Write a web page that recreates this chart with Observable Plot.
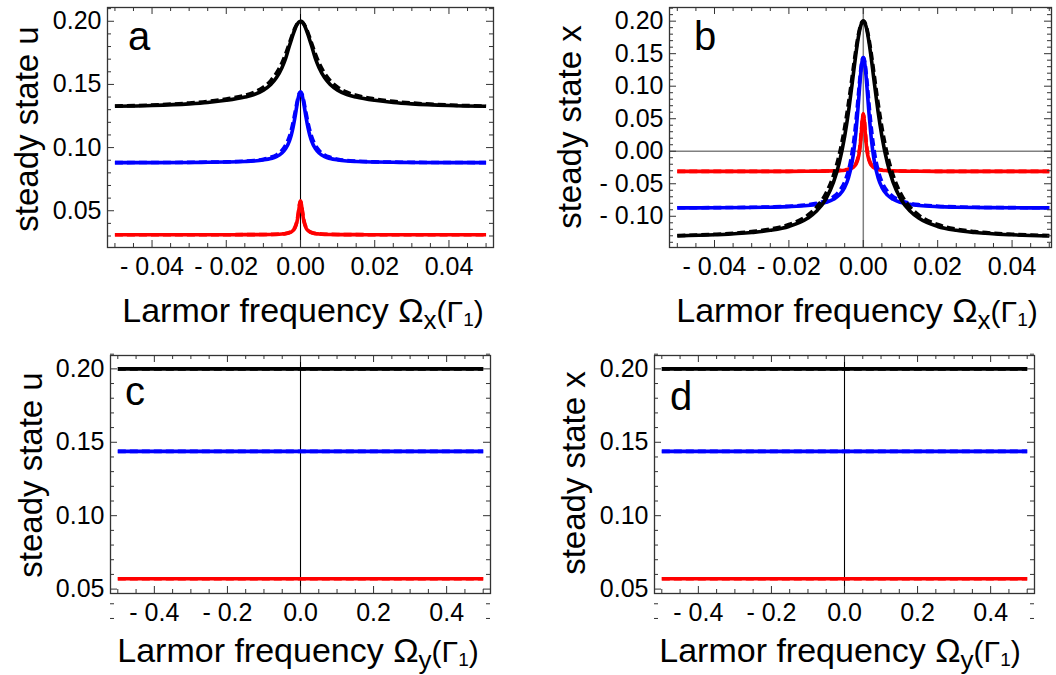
<!DOCTYPE html>
<html><head><meta charset="utf-8">
<script src="https://cdn.jsdelivr.net/npm/d3@7"></script>
<script src="https://cdn.jsdelivr.net/npm/@observablehq/plot@0.6"></script>
<style>
body{margin:0;background:#fff;}
#fig{position:relative;width:1056px;height:675px;overflow:hidden;background:#fff;}
.panel{position:absolute;}
#over{position:absolute;left:0;top:0;pointer-events:none;}
</style></head><body><div id="fig"></div>
<script>
// ---------- DATA ----------
// Larmor frequency Omega_x sample points (curves are symmetric about 0)
const omegaXHalf = [0, 0.00025, 0.0005, 0.00075, 0.001, 0.0015, 0.002, 0.0025, 0.003, 0.004, 0.005, 0.0065, 0.008, 0.01, 0.0125, 0.015, 0.02, 0.025, 0.03, 0.04, 0.05];
// panel a: steady state u vs Omega_x
const uBlackSolid  = [0.2000, 0.1998, 0.1992, 0.1983, 0.1971, 0.1937, 0.1896, 0.1850, 0.1804, 0.1705, 0.1632, 0.1552, 0.1500, 0.1455, 0.1420, 0.1400, 0.1374, 0.1357, 0.1346, 0.1333, 0.1327];
const uBlackDashed = [0.2000, 0.1998, 0.1994, 0.1986, 0.1975, 0.1946, 0.1910, 0.1869, 0.1826, 0.1742, 0.1670, 0.1588, 0.1530, 0.1478, 0.1438, 0.1414, 0.1385, 0.1366, 0.1353, 0.1337, 0.1329];
const uBlueSolid   = [0.1440, 0.1431, 0.1407, 0.1371, 0.1328, 0.1238, 0.1160, 0.1098, 0.1052, 0.0992, 0.0957, 0.0928, 0.0913, 0.0902, 0.0894, 0.0890, 0.0886, 0.0884, 0.0882, 0.0881, 0.0881];
const uBlueDashed  = [0.1440, 0.1433, 0.1415, 0.1386, 0.1351, 0.1273, 0.1199, 0.1137, 0.1087, 0.1019, 0.0978, 0.0942, 0.0923, 0.0908, 0.0898, 0.0893, 0.0887, 0.0885, 0.0883, 0.0882, 0.0881];
const uRedSolid    = [0.0576, 0.0549, 0.0494, 0.0443, 0.0406, 0.0363, 0.0343, 0.0332, 0.0326, 0.0319, 0.0316, 0.0313, 0.0312, 0.0311, 0.0311, 0.0311, 0.0310, 0.0310, 0.0310, 0.0310, 0.0310];
const uRedDashed   = [0.0576, 0.0552, 0.0501, 0.0452, 0.0414, 0.0369, 0.0347, 0.0335, 0.0328, 0.0320, 0.0317, 0.0314, 0.0313, 0.0312, 0.0311, 0.0311, 0.0310, 0.0310, 0.0310, 0.0310, 0.0310];
// panel b: steady state x vs Omega_x
const xBlackSolid  = [0.2000, 0.1991, 0.1963, 0.1917, 0.1856, 0.1692, 0.1490, 0.1266, 0.1036, 0.0601, 0.0232, -0.0187, -0.0476, -0.0727, -0.0917, -0.1032, -0.1156, -0.1216, -0.1250, -0.1285, -0.1301];
const xBlackDashed = [0.2000, 0.1992, 0.1968, 0.1929, 0.1877, 0.1735, 0.1556, 0.1355, 0.1144, 0.0732, 0.0368, -0.0061, -0.0368, -0.0643, -0.0855, -0.0985, -0.1127, -0.1197, -0.1236, -0.1277, -0.1296];
const xBlueSolid   = [0.1440, 0.1404, 0.1304, 0.1155, 0.0977, 0.0607, 0.0283, 0.0028, -0.0163, -0.0412, -0.0556, -0.0675, -0.0739, -0.0786, -0.0817, -0.0835, -0.0852, -0.0860, -0.0865, -0.0869, -0.0871];
const xBlueDashed  = [0.1440, 0.1413, 0.1336, 0.1218, 0.1072, 0.0749, 0.0443, 0.0186, -0.0018, -0.0300, -0.0471, -0.0617, -0.0698, -0.0759, -0.0799, -0.0822, -0.0845, -0.0856, -0.0862, -0.0867, -0.0870];
const xRedSolid    = [0.0576, 0.0487, 0.0303, 0.0133, 0.0009, -0.0133, -0.0201, -0.0237, -0.0258, -0.0280, -0.0291, -0.0298, -0.0302, -0.0305, -0.0307, -0.0308, -0.0309, -0.0310, -0.0310, -0.0310, -0.0310];
const xRedDashed   = [0.0576, 0.0497, 0.0327, 0.0161, 0.0036, -0.0114, -0.0188, -0.0228, -0.0252, -0.0276, -0.0288, -0.0297, -0.0301, -0.0304, -0.0306, -0.0308, -0.0309, -0.0310, -0.0310, -0.0310, -0.0310];
// panels c, d: steady states vs Omega_y (flat)
const omegaY = [-0.5, 0.5];
const uYBlack = [0.2000, 0.2000], uYBlue = [0.1438, 0.1438], uYRed = [0.0570, 0.0570];
const xYBlack = [0.2000, 0.2000], xYBlue = [0.1438, 0.1438], xYRed = [0.0570, 0.0570];
// tick values and labels
const xTicksOx = [-0.04, -0.02, 0, 0.02, 0.04];
const xLabelsOx = ["- 0.04", "- 0.02", "0.00", "0.02", "0.04"];
const xTicksOy = [-0.4, -0.2, 0, 0.2, 0.4];
const xLabelsOy = ["- 0.4", "- 0.2", "0.0", "0.2", "0.4"];
const yTicksU = [0.05, 0.10, 0.15, 0.20];
const yLabelsU = ["0.05", "0.10", "0.15", "0.20"];
const yTicksX = [-0.10, -0.05, 0, 0.05, 0.10, 0.15, 0.20];
const yLabelsX = ["- 0.10", "- 0.05", "0.00", "0.05", "0.10", "0.15", "0.20"];
const colors = {black: "#000000", blue: "#0000ff", red: "#ff0000"};

// ---------- helpers ----------
const FONT = '"Liberation Sans", Arial, Helvetica, sans-serif';
function mirror(half, vals) {
  const out = [];
  for (let i = half.length - 1; i > 0; i--) out.push({w: -half[i], v: vals[i]});
  for (let i = 0; i < half.length; i++) out.push({w: half[i], v: vals[i]});
  return out;
}
function pairs(ws, vals) { return ws.map((w, i) => ({w, v: vals[i]})); }

function makePanel(c) {
  const innerW = c.width - c.ml - c.mr;
  const innerH = c.height - c.mt - c.mb;
  const xl = new Map(c.xTicks.map((t, i) => [t, c.xLabels[i]]));
  const yl = new Map(c.yTicks.map((t, i) => [t, c.yLabels[i]]));
  const tk = "#333";
  const MAJ = 7, MIN = 4;
  const marks = [];
  marks.push(Plot.ruleX([0], {stroke: c.zeroColor, strokeWidth: c.zeroWidth}));
  if (c.zeroY) marks.push(Plot.ruleY([0], {stroke: c.zeroColor, strokeWidth: c.zeroWidth}));
  for (const s of c.series) {
    marks.push(Plot.line(s.data, {x: "w", y: "v", stroke: s.color, strokeWidth: 3.6,
      strokeDasharray: s.dash ? "8,4" : null, strokeLinecap: "butt", curve: "monotone-x"}));
  }
  marks.push(
    Plot.ruleX(c.xTicks, {stroke: tk, strokeWidth: 1, insetTop: innerH - MAJ}),
    Plot.ruleX(c.xTicks, {stroke: tk, strokeWidth: 1, insetBottom: innerH - MAJ}),
    Plot.ruleX(c.xMinor, {stroke: tk, strokeWidth: 1, insetTop: innerH - MIN}),
    Plot.ruleX(c.xMinor, {stroke: tk, strokeWidth: 1, insetBottom: innerH - MIN}),
    Plot.ruleY(c.yTicks, {stroke: tk, strokeWidth: 1, insetRight: innerW - MAJ}),
    Plot.ruleY(c.yTicks, {stroke: tk, strokeWidth: 1, insetLeft: innerW - MAJ}),
    Plot.ruleY(c.yMinor, {stroke: tk, strokeWidth: 1, insetRight: innerW - MIN}),
    Plot.ruleY(c.yMinor, {stroke: tk, strokeWidth: 1, insetLeft: innerW - MIN}),
    Plot.frame({stroke: "#333", strokeWidth: 1.3}),
    Plot.axisX({ticks: c.xTicks, tickFormat: d => xl.get(d), tickSize: 0, tickPadding: 10, fontSize: 25, label: null}),
    Plot.axisY({ticks: c.yTicks, tickFormat: d => yl.get(d), tickSize: 0, tickPadding: 6, fontSize: 25, label: null})
  );
  const svg = Plot.plot({
    width: c.width, height: c.height,
    marginLeft: c.ml, marginRight: c.mr, marginTop: c.mt, marginBottom: c.mb,
    x: {domain: c.xDomain}, y: {domain: c.yDomain},
    style: {fontFamily: FONT, fontSize: "25px", color: "#000", background: "transparent", overflow: "visible"},
    marks
  });
  const div = document.createElement("div");
  div.className = "panel";
  div.style.left = c.left + "px"; div.style.top = c.top + "px";
  div.appendChild(svg);
  return div;
}

const minorOx = d3.range(-50, 51, 5).map(k => k / 1000).filter(v => Math.abs(Math.round(v * 1000) % 20) !== 0);
const minorOy = d3.range(-50, 51, 5).map(k => k / 100).filter(v => Math.abs(Math.round(v * 100) % 20) !== 0);
const minorU = d3.range(3, 22).map(k => k / 100).filter(v => Math.round(v * 100) % 5 !== 0);
const minorX = d3.range(-14, 23).map(k => k / 100).filter(v => Math.round(v * 100) % 5 !== 0);

const fig = document.getElementById("fig");

fig.appendChild(makePanel({
  left: 0, top: 0, width: 528, height: 338, ml: 107, mr: 35, mt: 7, mb: 91,
  xDomain: [-0.052, 0.052], yDomain: [0.0209, 0.2109],
  xTicks: xTicksOx, xLabels: xLabelsOx, xMinor: minorOx,
  yTicks: yTicksU, yLabels: yLabelsU, yMinor: minorU,
  zeroColor: "#000", zeroWidth: 1.1, zeroY: false,
  series: [
    {data: mirror(omegaXHalf, uRedSolid), color: colors.red},
    {data: mirror(omegaXHalf, uRedDashed), color: colors.red, dash: true},
    {data: mirror(omegaXHalf, uBlueSolid), color: colors.blue},
    {data: mirror(omegaXHalf, uBlueDashed), color: colors.blue, dash: true},
    {data: mirror(omegaXHalf, uBlackSolid), color: colors.black},
    {data: mirror(omegaXHalf, uBlackDashed), color: colors.black, dash: true}
  ]
}));

fig.appendChild(makePanel({
  left: 528, top: 0, width: 528, height: 338, ml: 141, mr: 5, mt: 7, mb: 91,
  xDomain: [-0.0521, 0.0506], yDomain: [-0.148, 0.221],
  xTicks: xTicksOx, xLabels: xLabelsOx, xMinor: minorOx,
  yTicks: yTicksX, yLabels: yLabelsX, yMinor: minorX,
  zeroColor: "#808080", zeroWidth: 1.5, zeroY: true,
  series: [
    {data: mirror(omegaXHalf, xRedSolid), color: colors.red},
    {data: mirror(omegaXHalf, xRedDashed), color: colors.red, dash: true},
    {data: mirror(omegaXHalf, xBlueSolid), color: colors.blue},
    {data: mirror(omegaXHalf, xBlueDashed), color: colors.blue, dash: true},
    {data: mirror(omegaXHalf, xBlackSolid), color: colors.black},
    {data: mirror(omegaXHalf, xBlackDashed), color: colors.black, dash: true}
  ]
}));

fig.appendChild(makePanel({
  left: 0, top: 338, width: 528, height: 337, ml: 110, mr: 38, mt: 17, mb: 82,
  xDomain: [-0.52, 0.52], yDomain: [0.047, 0.2091],
  xTicks: xTicksOy, xLabels: xLabelsOy, xMinor: minorOy,
  yTicks: yTicksU, yLabels: yLabelsU, yMinor: minorU,
  zeroColor: "#000", zeroWidth: 1.1, zeroY: false,
  series: [
    {data: pairs(omegaY, uYRed), color: colors.red},
    {data: pairs(omegaY, uYRed), color: colors.red, dash: true},
    {data: pairs(omegaY, uYBlue), color: colors.blue},
    {data: pairs(omegaY, uYBlue), color: colors.blue, dash: true},
    {data: pairs(omegaY, uYBlack), color: colors.black},
    {data: pairs(omegaY, uYBlack), color: colors.black, dash: true}
  ]
}));

fig.appendChild(makePanel({
  left: 528, top: 338, width: 528, height: 337, ml: 126, mr: 22, mt: 17, mb: 82,
  xDomain: [-0.52, 0.52], yDomain: [0.047, 0.2091],
  xTicks: xTicksOy, xLabels: xLabelsOy, xMinor: minorOy,
  yTicks: yTicksU, yLabels: yLabelsU, yMinor: minorU,
  zeroColor: "#000", zeroWidth: 1.1, zeroY: false,
  series: [
    {data: pairs(omegaY, xYRed), color: colors.red},
    {data: pairs(omegaY, xYRed), color: colors.red, dash: true},
    {data: pairs(omegaY, xYBlue), color: colors.blue},
    {data: pairs(omegaY, xYBlue), color: colors.blue, dash: true},
    {data: pairs(omegaY, xYBlack), color: colors.black},
    {data: pairs(omegaY, xYBlack), color: colors.black, dash: true}
  ]
}));

// ---------- text overlay: axis titles and panel letters ----------
const NS = "http://www.w3.org/2000/svg";
const over = document.createElementNS(NS, "svg");
over.setAttribute("id", "over");
over.setAttribute("width", 1056); over.setAttribute("height", 675);
over.setAttribute("font-family", FONT);
fig.appendChild(over);

function addText(x, y, parts, opts = {}) {
  const t = document.createElementNS(NS, "text");
  t.setAttribute("x", x); t.setAttribute("y", y);
  t.setAttribute("text-anchor", opts.anchor || "start");
  t.setAttribute("font-size", opts.size || 33);
  t.setAttribute("fill", "#000");
  if (opts.rotate) {
    t.setAttribute("x", 0); t.setAttribute("y", 0);
    t.setAttribute("transform", `translate(${x},${y}) rotate(-90)`);
  }
  for (const p of parts) {
    const s = document.createElementNS(NS, "tspan");
    s.textContent = p.t;
    if (p.size) s.setAttribute("font-size", p.size);
    if (p.dy) s.setAttribute("dy", p.dy);
    t.appendChild(s);
  }
  over.appendChild(t);
}
function xTitle(cx, y, sub) {
  addText(cx, y, [
    {t: "Larmor frequency Ω"},
    {t: sub, size: 26, dy: 7},
    {t: "(Γ", size: 30, dy: -7},
    {t: "1", size: 19, dy: 4},
    {t: ")", size: 30, dy: -4}
  ], {anchor: "middle", size: 34});
}
xTitle(303, 322, "x");
xTitle(857, 322, "x");
xTitle(298, 662, "y");
xTitle(840, 662, "y");

addText(38, 129, [{t: "steady state u"}], {anchor: "middle", size: 33, rotate: true});
addText(581, 127, [{t: "steady state x"}], {anchor: "middle", size: 33, rotate: true});
addText(42, 475, [{t: "steady state u"}], {anchor: "middle", size: 33, rotate: true});
addText(585, 473, [{t: "steady state x"}], {anchor: "middle", size: 33, rotate: true});

addText(128, 50, [{t: "a"}], {size: 40});
addText(694, 50, [{t: "b"}], {size: 40});
addText(125, 405, [{t: "c"}], {size: 40});
addText(670, 410, [{t: "d"}], {size: 40});
</script></body></html>
